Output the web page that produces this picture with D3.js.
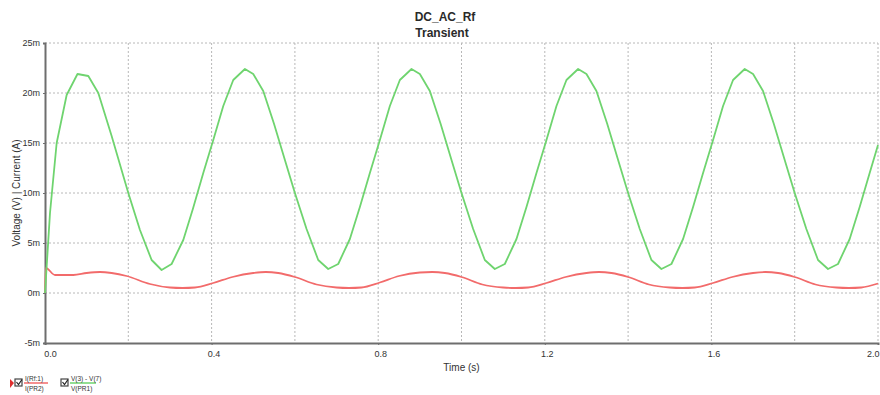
<!DOCTYPE html>
<html>
<head>
<meta charset="utf-8">
<script src="https://cdn.jsdelivr.net/npm/d3@7"></script>
<style>
  body { margin: 0; background: #fff; }
  svg { font-family: "Liberation Sans", Arial, sans-serif; }
</style>
</head>
<body>
<div id="chart"></div>
<script>
// values (time in s, value in m-units)
const greenPoints = [
  [0, 0], [0.012, 8], [0.028, 15], [0.052, 19.8], [0.078, 21.9], [0.104, 21.7], [0.128, 20], [0.16, 15.7],
  [0.2, 10], [0.228, 6.3], [0.256, 3.3], [0.28, 2.3], [0.304, 2.9], [0.332, 5.3], [0.355, 8.4], [0.38, 12.0],
  [0.404, 15.3], [0.428, 18.7], [0.452, 21.3], [0.48, 22.4], [0.5, 21.9], [0.524, 20.2], [0.55, 16.9], [0.576, 13.3],
  [0.6, 10], [0.628, 6.4], [0.656, 3.3], [0.68, 2.4], [0.704, 2.9], [0.732, 5.4], [0.756, 8.6], [0.78, 12.0],
  [0.804, 15.3], [0.828, 18.7], [0.852, 21.3], [0.88, 22.4], [0.9, 21.9], [0.924, 20.2], [0.95, 16.9], [0.976, 13.3],
  [1.0, 10], [1.028, 6.4], [1.056, 3.3], [1.08, 2.4], [1.104, 2.9], [1.132, 5.4], [1.156, 8.6], [1.18, 12.0],
  [1.204, 15.3], [1.228, 18.7], [1.252, 21.3], [1.28, 22.4], [1.3, 21.9], [1.324, 20.2], [1.35, 16.9], [1.376, 13.3],
  [1.4, 10], [1.428, 6.4], [1.456, 3.3], [1.48, 2.4], [1.504, 2.9], [1.532, 5.4], [1.556, 8.6], [1.58, 12.0],
  [1.604, 15.3], [1.628, 18.7], [1.652, 21.3], [1.68, 22.4], [1.7, 21.9], [1.724, 20.2], [1.75, 16.9], [1.776, 13.3],
  [1.8, 10], [1.828, 6.4], [1.856, 3.3], [1.88, 2.4], [1.904, 2.9], [1.932, 5.4], [1.956, 8.6], [1.98, 12.0],
  [2.0, 14.8]
];

const redPoints = [
  [0, 0], [0.002, 2.5], [0.024, 1.8], [0.068, 1.8], [0.1, 2.0], [0.132, 2.1], [0.16, 2.0], [0.196, 1.7],
  [0.252, 0.9], [0.3, 0.55], [0.33, 0.5], [0.36, 0.55], [0.404, 1.0], [0.45, 1.6], [0.5, 2.0], [0.53, 2.1],
  [0.56, 2.0], [0.6, 1.6], [0.652, 0.85], [0.7, 0.55], [0.73, 0.5], [0.76, 0.55], [0.804, 1.05], [0.85, 1.7],
  [0.9, 2.05], [0.93, 2.1], [0.96, 2.0], [1.0, 1.6], [1.05, 0.85], [1.1, 0.55], [1.13, 0.5], [1.16, 0.55],
  [1.204, 1.0], [1.25, 1.6], [1.3, 2.0], [1.33, 2.1], [1.36, 2.0], [1.4, 1.6], [1.45, 0.85], [1.5, 0.55],
  [1.53, 0.5], [1.56, 0.55], [1.604, 1.0], [1.65, 1.6], [1.7, 2.0], [1.73, 2.1], [1.76, 2.0], [1.8, 1.6],
  [1.85, 0.85], [1.9, 0.55], [1.93, 0.5], [1.96, 0.55], [2.0, 0.95]
];

const xTicks = [0, 0.4, 0.8, 1.2, 1.6, 2.0];
const xGrid = [0.2, 0.4, 0.6, 0.8, 1.0, 1.2, 1.4, 1.6, 1.8, 2.0];
const yTicks = [-5, 0, 5, 10, 15, 20, 25];
const legendItems = [
  { top: "I(Rf:1)", bottom: "I(PR2)", color: "#f26b6b" },
  { top: "V(3) - V(7)", bottom: "V(PR1)", color: "#6fd46f" }
];

const width = 880, height = 395;
const margin = { left: 45, right: 2, top: 43, bottom: 52 };
const innerWidth = width - margin.left - margin.right;
const innerHeight = height - margin.top - margin.bottom;

const svg = d3.select("#chart").append("svg")
  .attr("width", width)
  .attr("height", height);

const xScale = d3.scaleLinear().domain([0, 2]).range([0, innerWidth]);
const yScale = d3.scaleLinear().domain([-5, 25]).range([innerHeight, 0]);

// titles
svg.append("text")
  .attr("x", 445).attr("y", 21)
  .attr("text-anchor", "middle")
  .style("font-size", "12px").style("font-weight", "bold").style("fill", "#2a2a2a")
  .text("DC_AC_Rf");
svg.append("text")
  .attr("x", 442).attr("y", 37)
  .attr("text-anchor", "middle")
  .style("font-size", "12px").style("font-weight", "bold").style("fill", "#2a2a2a")
  .text("Transient");

const g = svg.append("g")
  .attr("transform", "translate(" + margin.left + "," + margin.top + ")");

// dotted grid
g.selectAll(".hgrid")
  .data(yTicks.filter(d => d > -5))
  .enter().append("line")
  .attr("class", "hgrid")
  .attr("x1", 0).attr("x2", innerWidth)
  .attr("y1", d => yScale(d)).attr("y2", d => yScale(d))
  .attr("stroke", "#b8b8b8").attr("stroke-width", 1)
  .attr("stroke-dasharray", "2,2");

g.selectAll(".vgrid")
  .data(xGrid)
  .enter().append("line")
  .attr("class", "vgrid")
  .attr("x1", d => xScale(d)).attr("x2", d => xScale(d))
  .attr("y1", 0).attr("y2", innerHeight)
  .attr("stroke", "#b8b8b8").attr("stroke-width", 1)
  .attr("stroke-dasharray", "2,2");

// axes
const xAxis = d3.axisBottom(xScale)
  .tickValues(xTicks)
  .tickSize(2)
  .tickPadding(6)
  .tickFormat(d3.format(".1f"));

const yAxis = d3.axisLeft(yScale)
  .tickValues(yTicks)
  .tickSize(2)
  .tickPadding(3)
  .tickFormat(d => d + "m");

const xAxisG = g.append("g")
  .attr("transform", "translate(0," + innerHeight + ")")
  .call(xAxis);
const yAxisG = g.append("g").call(yAxis);

[xAxisG, yAxisG].forEach(a => {
  a.select(".domain").attr("stroke", "#6e6e6e").attr("stroke-width", 2);
  a.selectAll(".tick line").attr("stroke", "#6e6e6e");
  a.selectAll(".tick text")
    .style("font-size", "9px")
    .style("font-family", "'Liberation Sans', Arial, sans-serif")
    .attr("fill", "#333");
});
xAxisG.selectAll(".tick text")
  .attr("text-anchor", d => d === 2 ? "end" : "middle")
  .attr("dx", d => d === 0 ? 5 : (d === 2 ? 1 : 2));

// axis labels
svg.append("text")
  .attr("x", margin.left + innerWidth / 2).attr("y", 371)
  .attr("text-anchor", "middle")
  .style("font-size", "10px").style("fill", "#333")
  .text("Time (s)");
svg.append("text")
  .attr("transform", "translate(20," + (margin.top + yScale(10)) + ") rotate(-90)")
  .attr("text-anchor", "middle")
  .style("font-size", "10px").style("fill", "#333")
  .text("Voltage (V) | Current (A)");

// series
const line = d3.line()
  .x(d => xScale(d[0]))
  .y(d => yScale(d[1]));

g.append("path")
  .datum(redPoints)
  .attr("fill", "none")
  .attr("stroke", legendItems[0].color)
  .attr("stroke-width", 1.8)
  .attr("d", line.curve(d3.curveMonotoneX));

g.append("path")
  .datum(greenPoints)
  .attr("fill", "none")
  .attr("stroke", legendItems[1].color)
  .attr("stroke-width", 1.8)
  .attr("stroke-linejoin", "round")
  .attr("d", line.curve(d3.curveLinear));

// legend
svg.append("path")
  .attr("d", "M10,379 L14,383 L10,388 Z")
  .attr("fill", "#e03030");

const legend = svg.selectAll(".legend")
  .data(legendItems)
  .enter().append("g")
  .attr("class", "legend")
  .attr("transform", (d, i) => "translate(" + (15 + i * 46) + ",0)");

legend.append("rect")
  .attr("x", 0).attr("y", 379)
  .attr("width", 7).attr("height", 7)
  .attr("fill", "#fff")
  .attr("stroke", "#444").attr("stroke-width", 1.2);
legend.append("path")
  .attr("d", "M1.5,382 L3.5,384.5 L7,379.5")
  .attr("fill", "none")
  .attr("stroke", "#222").attr("stroke-width", 1.2);
legend.append("line")
  .attr("x1", 9).attr("x2", (d, i) => i === 0 ? 33 : 35)
  .attr("y1", 383).attr("y2", 383)
  .attr("stroke", d => d.color).attr("stroke-width", 1.5);
legend.append("text")
  .attr("x", 10).attr("y", 381)
  .style("font-size", "6.5px").style("fill", "#333")
  .text(d => d.top);
legend.append("text")
  .attr("x", 10).attr("y", 391)
  .style("font-size", "6.5px").style("fill", "#333")
  .text(d => d.bottom);
</script>
</body>
</html>
